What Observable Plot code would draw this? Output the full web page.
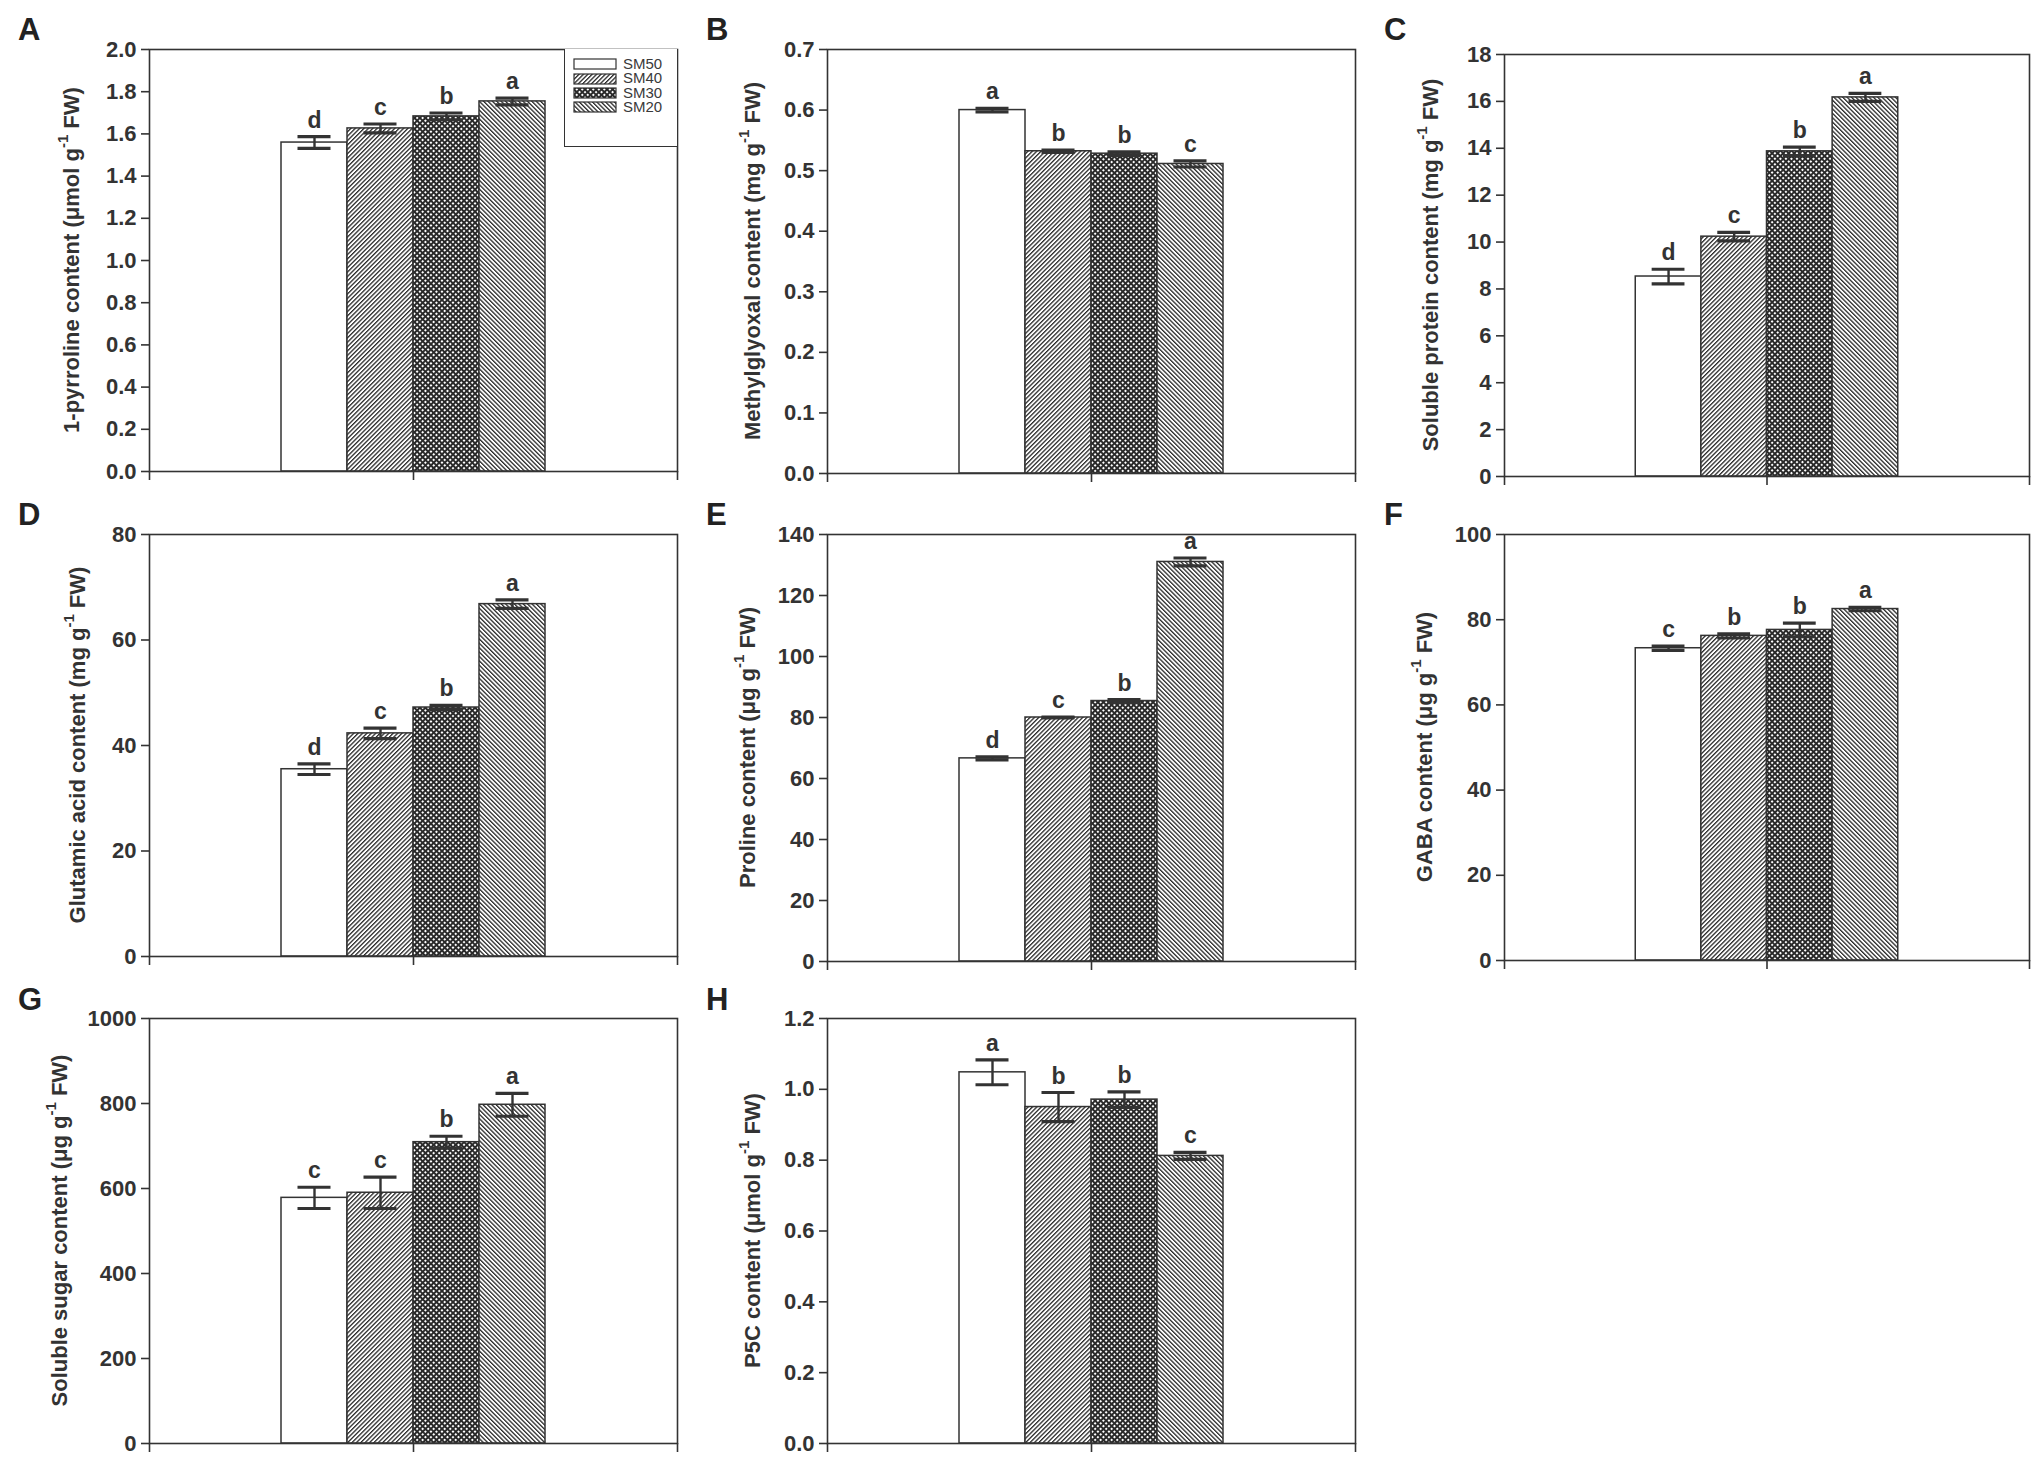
<!DOCTYPE html>
<html>
<head>
<meta charset="utf-8">
<script src="https://cdn.jsdelivr.net/npm/d3@7"></script>
<script src="https://cdn.jsdelivr.net/npm/@observablehq/plot@0.6"></script>
<style>
  html, body { margin: 0; padding: 0; background: #fff; }
  #fig { position: relative; width: 2033px; height: 1458px; overflow: hidden; background: #fff; }
  .panel { position: absolute; }
  #letters { position: absolute; left: 0; top: 0; }
  #legendA { position: absolute; box-sizing: border-box; background: #fff;
             border-left: 1.6px solid #333; border-bottom: 1.6px solid #333; }
  #legendA, #legendA * { font-family: "Liberation Sans", Arial, sans-serif !important; font-size: 15px !important; color: #3a3a3a !important; }
  #legendA .lg-swatches { margin: 0 !important; columns: auto !important; }
  #legendA .lg-swatch { display: flex !important; align-items: center !important; height: 14.4px !important; margin: 0 !important; padding: 0 !important; overflow: visible !important; }
  #legendA .lg-swatch > * { overflow: visible !important; line-height: 14.4px !important; text-overflow: clip !important; }
  #legendA .lg-swatch svg { overflow: visible !important; margin-right: 7px !important; flex-shrink: 0; }
  #legendA .lg-swatch svg rect { stroke: #333; stroke-width: 1.2px; }
</style>
</head>
<body>
<svg width="0" height="0" style="position:absolute">
  <defs>
    <pattern id="patSM50" patternUnits="userSpaceOnUse" width="4" height="4">
      <rect width="4" height="4" fill="#fff"/>
    </pattern>
    <pattern id="patSM40" patternUnits="userSpaceOnUse" width="3.1" height="3.1" patternTransform="rotate(45)">
      <rect width="3.1" height="3.1" fill="#fff"/>
      <rect x="0" y="0" width="1.3" height="3.1" fill="#2a2a2a"/>
    </pattern>
    <pattern id="patSM30" patternUnits="userSpaceOnUse" width="3.9" height="3.9" patternTransform="rotate(45)">
      <rect width="3.9" height="3.9" fill="#fff"/>
      <rect x="0" y="0" width="1.95" height="3.9" fill="#2a2a2a"/>
      <rect x="0" y="0" width="3.9" height="1.95" fill="#2a2a2a"/>
    </pattern>
    <pattern id="patSM20" patternUnits="userSpaceOnUse" width="3.1" height="3.1" patternTransform="rotate(-45)">
      <rect width="3.1" height="3.1" fill="#fff"/>
      <rect x="0" y="0" width="1.3" height="3.1" fill="#2a2a2a"/>
    </pattern>
  </defs>
</svg>
<div id="fig"></div>
<script>
// ---------------- data ----------------
const treatments = ["SM50", "SM40", "SM30", "SM20"];
const patterns = ["url(#patSM50)", "url(#patSM40)", "url(#patSM30)", "url(#patSM20)"];

// A: 1-pyrroline (μmol g-1 FW)
const pyrrolineMean = [1.559, 1.626, 1.683, 1.754];
const pyrrolineSE = [0.028, 0.021, 0.016, 0.016];
const pyrrolineLetters = ["d", "c", "b", "a"];
// B: methylglyoxal (mg g-1 FW)
const mgMean = [0.600, 0.532, 0.528, 0.511];
const mgSE = [0.003, 0.002, 0.003, 0.005];
const mgLetters = ["a", "b", "b", "c"];
// C: soluble protein (mg g-1 FW)
const proteinMean = [8.53, 10.23, 13.87, 16.17];
const proteinSE = [0.31, 0.18, 0.18, 0.17];
const proteinLetters = ["d", "c", "b", "a"];
// D: glutamic acid (mg g-1 FW)
const gluMean = [35.5, 42.3, 47.2, 66.8];
const gluSE = [1.0, 1.0, 0.4, 0.8];
const gluLetters = ["d", "c", "b", "a"];
// E: proline (μg g-1 FW)
const prolineMean = [66.6, 80.0, 85.4, 131.0];
const prolineSE = [0.5, 0.1, 0.5, 1.3];
const prolineLetters = ["d", "c", "b", "a"];
// F: GABA (μg g-1 FW)
const gabaMean = [73.3, 76.2, 77.6, 82.5];
const gabaSE = [0.5, 0.5, 1.6, 0.4];
const gabaLetters = ["c", "b", "b", "a"];
// G: soluble sugar (μg g-1 FW)
const sugarMean = [578, 590, 709, 797];
const sugarSE = [25, 37, 14, 27];
const sugarLetters = ["c", "c", "b", "a"];
// H: P5C (μmol g-1 FW)
const p5cMean = [1.048, 0.950, 0.971, 0.812];
const p5cSE = [0.035, 0.041, 0.022, 0.010];
const p5cLetters = ["a", "b", "b", "c"];

const panelLetters = ["A", "B", "C", "D", "E", "F", "G", "H"];
const yTitles = [
  ["1-pyrroline content (μmol g", "-1", " FW)"],
  ["Methylglyoxal content (mg g", "-1", " FW)"],
  ["Soluble protein content (mg g", "-1", " FW)"],
  ["Glutamic acid content (mg g", "-1", " FW)"],
  ["Proline content (μg g", "-1", " FW)"],
  ["GABA content (μg g", "-1", " FW)"],
  ["Soluble sugar content (μg g", "-1", " FW)"],
  ["P5C content (μmol g", "-1", " FW)"]
];
const yDomains = [[0, 2], [0, 0.7], [0, 18], [0, 80], [0, 140], [0, 100], [0, 1000], [0, 1.2]];
const yTicks = [
  [0, 0.2, 0.4, 0.6, 0.8, 1.0, 1.2, 1.4, 1.6, 1.8, 2.0],
  [0, 0.1, 0.2, 0.3, 0.4, 0.5, 0.6, 0.7],
  [0, 2, 4, 6, 8, 10, 12, 14, 16, 18],
  [0, 20, 40, 60, 80],
  [0, 20, 40, 60, 80, 100, 120, 140],
  [0, 20, 40, 60, 80, 100],
  [0, 200, 400, 600, 800, 1000],
  [0, 0.2, 0.4, 0.6, 0.8, 1.0, 1.2]
];
const yFormats = [".1f", ".1f", "d", "d", "d", "d", "d", ".1f"];
const xTicks = [-2, 2, 6];   // left edge, centre, right edge of the x axis (bars occupy 0..4)

const series = [
  [pyrrolineMean, pyrrolineSE, pyrrolineLetters],
  [mgMean, mgSE, mgLetters],
  [proteinMean, proteinSE, proteinLetters],
  [gluMean, gluSE, gluLetters],
  [prolineMean, prolineSE, prolineLetters],
  [gabaMean, gabaSE, gabaLetters],
  [sugarMean, sugarSE, sugarLetters],
  [p5cMean, p5cSE, p5cLetters]
];

// ---------------- layout ----------------
const frames = [
  {left: 149, top: 49, w: 528, h: 422, title: 78},
  {left: 827, top: 49, w: 528, h: 424, title: 75},
  {left: 1504, top: 54, w: 525, h: 422, title: 74},
  {left: 149, top: 534, w: 528, h: 422, title: 72},
  {left: 827, top: 534, w: 528, h: 427, title: 80},
  {left: 1504, top: 534, w: 525, h: 426, title: 80},
  {left: 149, top: 1018, w: 528, h: 425, title: 90},
  {left: 827, top: 1018, w: 528, h: 425, title: 75}
];
const letterPos = [[18, 40], [706, 40], [1384, 40], [18, 525], [706, 525], [1384, 525], [18, 1010], [706, 1010]];

const ML = 140, MT = 40, MR = 4, MB = 30;
const ink = "#333";
const tickFont = "'Liberation Sans Narrow', 'Arial Narrow', 'Liberation Sans', Arial, sans-serif";
const textFont = "'Liberation Sans', Arial, sans-serif";
const fig = document.getElementById("fig");

series.forEach(([means, ses, lets], k) => {
  const f = frames[k];
  const rows = treatments.map((t, i) => ({treatment: t, pos: i, mean: means[i], se: ses[i], letter: lets[i]}));
  const capHalf = 0.25;
  const svg = Plot.plot({
    width: ML + f.w + MR,
    height: MT + f.h + MB,
    marginLeft: ML, marginTop: MT, marginRight: MR, marginBottom: MB,
    style: {fontFamily: tickFont, fontSize: "22px", fontWeight: "bold", color: ink, background: "transparent", overflow: "visible"},
    x: {domain: [-2, 6]},
    y: {domain: yDomains[k]},
    color: {type: "ordinal", domain: treatments, range: patterns},
    marks: [
      Plot.rectY(rows, {x1: "pos", x2: d => d.pos + 1, y: "mean", fill: "treatment", stroke: ink, strokeWidth: 1.5}),
      Plot.ruleX(rows, {x: d => d.pos + 0.5, y1: d => d.mean - d.se, y2: d => d.mean + d.se, stroke: ink, strokeWidth: 2.4}),
      Plot.ruleY(rows, {y: d => d.mean + d.se, x1: d => d.pos + 0.5 - capHalf, x2: d => d.pos + 0.5 + capHalf, stroke: ink, strokeWidth: 3.2}),
      Plot.ruleY(rows, {y: d => d.mean - d.se, x1: d => d.pos + 0.5 - capHalf, x2: d => d.pos + 0.5 + capHalf, stroke: ink, strokeWidth: 3.2}),
      Plot.text(rows, {x: d => d.pos + 0.5, y: d => d.mean + d.se, text: "letter", dy: -9, lineAnchor: "bottom", fontSize: 23, fontWeight: "bold", fontFamily: textFont, fill: ink}),
      Plot.frame({stroke: ink, strokeWidth: 1.6}),
      Plot.axisY({ticks: yTicks[k], tickFormat: d3.format(yFormats[k]), tickSize: 8, tickPadding: 5, label: null, strokeWidth: 1.6}),
      Plot.axisX({ticks: xTicks, tickFormat: () => "", tickSize: 9, label: null, strokeWidth: 1.6})
    ]
  });
  // y-axis title with superscript
  const t = d3.select(svg).append("text")
    .attr("transform", `translate(${ML - f.title},${MT + f.h / 2}) rotate(-90)`)
    .attr("text-anchor", "middle")
    .attr("dominant-baseline", "central")
    .attr("font-family", textFont)
    .attr("font-size", 22)
    .attr("font-weight", "bold")
    .attr("fill", ink);
  t.append("tspan").text(yTitles[k][0]);
  t.append("tspan").attr("font-size", 15).attr("dy", -9).text(yTitles[k][1]);
  t.append("tspan").attr("dy", 9).text(yTitles[k][2]);

  svg.classList.add("panel");
  svg.style.left = (f.left - ML) + "px";
  svg.style.top = (f.top - MT) + "px";
  fig.appendChild(svg);
});

// panel letters
const ov = d3.select(fig).append("svg").attr("id", "letters").attr("width", 2033).attr("height", 1458);
ov.selectAll("text").data(panelLetters).join("text")
  .attr("x", (d, i) => letterPos[i][0]).attr("y", (d, i) => letterPos[i][1])
  .attr("font-family", textFont).attr("font-size", 31).attr("font-weight", "bold")
  .attr("fill", "#222").text(d => d);

// legend inside panel A (top-right corner of its frame)
const lg = document.createElement("div");
lg.id = "legendA";
const fA = frames[0];
lg.style.left = (fA.left + fA.w - 113) + "px";
lg.style.top = fA.top + "px";
lg.style.width = "113px";
lg.style.height = "98px";
lg.style.padding = "8px 0 0 9px";
lg.appendChild(Plot.legend({
  legend: "swatches",
  className: "lg",
  color: {type: "ordinal", domain: treatments, range: patterns},
  swatchWidth: 42, swatchHeight: 10, columns: 1
}));
fig.appendChild(lg);
</script>
</body>
</html>
